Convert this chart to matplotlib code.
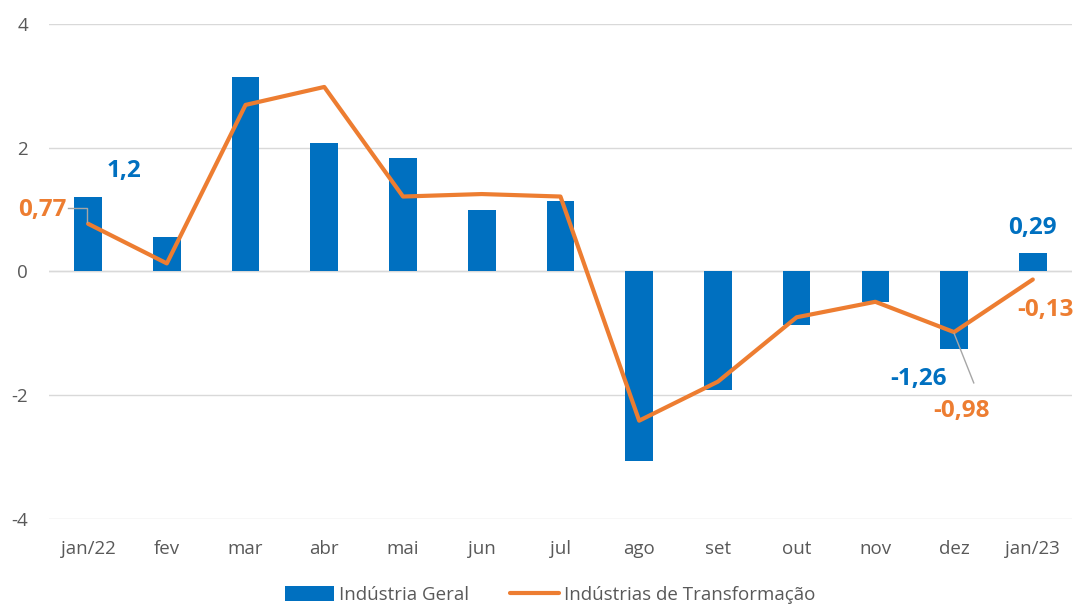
import matplotlib
matplotlib.use("Agg")
import matplotlib.pyplot as plt
import numpy as np

categories = ["jan/22", "fev", "mar", "abr", "mai", "jun", "jul", "ago", "set", "out", "nov", "dez", "jan/23"]
geral = [1.2, 0.55, 3.14, 2.07, 1.83, 1.0, 1.13, -3.06, -1.91, -0.87, -0.5, -1.26, 0.29]
transf = [0.77, 0.13, 2.69, 2.98, 1.21, 1.25, 1.21, -2.41, -1.78, -0.74, -0.49, -0.98, -0.13]
yticks = [-4, -2, 0, 2, 4]

blue = "#0070C0"
orange = "#ED7D31"
gray = "#595959"

plt.rcParams['font.family'] = ['Open Sans', 'DejaVu Sans']
fig = plt.figure(figsize=(10.83, 6.10), dpi=100)
ax = fig.add_axes([0.045, 0.149, 0.945, 0.812])
x = np.arange(len(categories))
bars = ax.bar(x, geral, width=0.35, color=blue, label="Indústria Geral", zorder=2)
line, = ax.plot(x, transf, color=orange, lw=3, label="Indústrias de Transformação", zorder=3,
                solid_joinstyle='round', solid_capstyle='round')
ax.set_xlim(-0.5, len(categories) - 0.5)
ax.set_ylim(-4, 4)
ax.set_yticks(yticks)
ax.set_yticklabels([str(v) for v in yticks], color=gray, fontsize=13.5)
ax.set_xticks(x)
ax.set_xticklabels(categories, color=gray, fontsize=13.5)
ax.tick_params(axis='x', length=0, pad=15)
ax.tick_params(axis='y', length=0, pad=15)
ax.grid(axis='y', color="#D9D9D9", lw=1, zorder=0)
for s in ax.spines.values():
    s.set_visible(False)
ax.axhline(0, color="#D9D9D9", lw=1, zorder=1)

def fmt(v):
    s = f"{v:.2f}"
    if s.endswith('0'):
        s = s[:-1]
    return s.replace('.', ',')

lab = dict(fontsize=17.5, fontweight='bold')
# blue labels
ax.text(0.45, 1.63, fmt(geral[0]), color=blue, ha='center', va='center', **lab)
ax.text(12, 0.70, fmt(geral[12]), color=blue, ha='center', va='center', **lab)
ax.text(10.55, -1.73, fmt(geral[11]), color=blue, ha='center', va='center', **lab)
# orange labels
ax.text(-0.27, 0.99, fmt(transf[0]), color=orange, ha='right', va='center', **lab)
ax.plot([-0.25, -0.02, -0.02], [1.02, 1.02, 0.8], color="#A6A6A6", lw=1, zorder=4)
ax.text(12.16, -0.63, fmt(transf[12]), color=orange, ha='center', va='center', **lab)
ax.text(11.1, -2.25, fmt(transf[11]), color=orange, ha='center', va='center', **lab)
ax.plot([11.0, 11.25], [-1.0, -1.8], color="#A6A6A6", lw=1, zorder=4)

fig.legend([bars, line], ["Indústria Geral", "Indústrias de Transformação"],
           loc='lower center', ncol=2, frameon=False, bbox_to_anchor=(0.508, -0.018),
           fontsize=13.5, labelcolor=gray, handlelength=2.6, handleheight=0.9,
           columnspacing=2.2, handletextpad=0.25)
fig.savefig("out.png", dpi=100)
